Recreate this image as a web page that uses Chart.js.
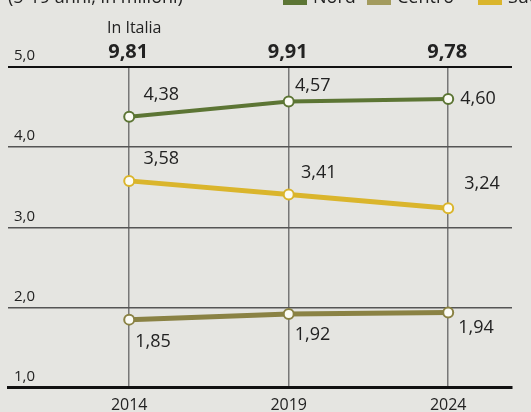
<!DOCTYPE html>
<html>
<head>
<meta charset="utf-8">
<script src="https://cdn.jsdelivr.net/npm/chart.js@4.4.1/dist/chart.umd.min.js"></script>
<style>
  html, body { margin: 0; padding: 0; background: #e5e5e1; overflow: hidden; }
  #wrap { position: relative; width: 531px; height: 423px; }
</style>
</head>
<body>
<div id="wrap"><canvas id="studenti"></canvas></div>
<script>
// data
const anni = [2014, 2019, 2024];
const nord = [4.38, 4.57, 4.60];
const centro = [1.85, 1.92, 1.94];
const sud = [3.58, 3.41, 3.24];
const totaleItalia = [9.81, 9.91, 9.78];
const yTicks = [1, 2, 3, 4, 5];

const colNord = '#5c7534';
const colCentro = '#8a8244';
const colSud = '#dab52c';
const fontFam = '"Open Sans", "Noto Sans", sans-serif';

const fmt = (v, d) => v.toFixed(d).replace('.', ',');

// label offsets for each series (dx, dy, align)
const labelPos = {
  Nord: [[32, -22, 'center'], [24, -16, 'center'], [12, 0, 'left']],
  Sud: [[32, -22, 'center'], [30, -22, 'center'], [16, -24, 'left']],
  Centro: [[6, 22, 'left'], [6, 21, 'left'], [10, 15, 'left']]
};

const overlay = {
  id: 'overlay',
  afterDatasetsDraw(chart) {
    const c = chart.ctx;
    const x = chart.scales.x;
    c.save();
    c.fillStyle = '#222';
    c.textBaseline = 'middle';
    // valori sui punti
    chart.data.datasets.forEach((ds, i) => {
      const meta = chart.getDatasetMeta(i);
      meta.data.forEach((pt, j) => {
        const p = labelPos[ds.label][j];
        c.font = '18px ' + fontFam;
        c.textAlign = p[2];
        c.fillText(fmt(ds.data[j].y, 2), pt.x + p[0], pt.y + p[1]);
      });
    });
    // intestazione in alto (tagliata)
    c.textAlign = 'left';
    c.font = '18px ' + fontFam;
    c.fillText('(5-19 anni, in milioni)', 8, -2);
    const leg = [['Nord', colNord, 283], ['Centro', '#a39b5e', 367], ['Sud', colSud, 478]];
    leg.forEach(l => {
      c.fillStyle = l[1];
      c.fillRect(l[2], -10, 24, 15);
      c.fillStyle = '#222';
      c.fillText(l[0], l[2] + 30, -2);
    });
    // totale Italia
    c.font = '16px ' + fontFam;
    c.fillText('In Italia', 107, 28);
    c.font = 'bold 20px ' + fontFam;
    totaleItalia.forEach((t, j) => {
      c.fillText(fmt(t, 2), x.getPixelForValue(anni[j]) - 21, 52);
    });
    c.restore();
  }
};

const ctx = document.getElementById('studenti').getContext('2d');
const chart = new Chart(ctx, {
  type: 'line',
  data: {
    datasets: [
      { label: 'Nord', data: anni.map((a, i) => ({ x: a, y: nord[i] })), borderColor: colNord, borderWidth: 4 },
      { label: 'Sud', data: anni.map((a, i) => ({ x: a, y: sud[i] })), borderColor: colSud, borderWidth: 5 },
      { label: 'Centro', data: anni.map((a, i) => ({ x: a, y: centro[i] })), borderColor: colCentro, borderWidth: 5 }
    ].map(ds => Object.assign(ds, {
      pointRadius: 5,
      pointBorderWidth: 2,
      pointBackgroundColor: '#fbfbf4',
      pointBorderColor: ds.borderColor,
      tension: 0
    }))
  },
  options: {
    responsive: true,
    maintainAspectRatio: false,
    animation: false,
    layout: { padding: { left: -4, right: 19, top: 67, bottom: 0 } },
    plugins: { legend: { display: false }, tooltip: { enabled: false } },
    scales: {
      x: {
        type: 'linear',
        min: 2010.2,
        max: 2026,
        afterBuildTicks: s => { s.ticks = anni.map(v => ({ value: v })); },
        ticks: {
          color: '#222',
          font: { size: 16, family: fontFam },
          padding: 8,
          callback: v => String(v)
        },
        grid: { color: '#777', lineWidth: 1.5, drawTicks: false },
        border: { color: '#111', width: 3 }
      },
      y: {
        min: 1,
        max: 5,
        afterBuildTicks: s => { s.ticks = yTicks.map(v => ({ value: v })); },
        ticks: {
          mirror: true,
          padding: 6,
          labelOffset: -11,
          color: '#222',
          font: { size: 15, family: fontFam },
          callback: v => fmt(v, 1)
        },
        grid: {
          drawTicks: false,
          color: c => (c.tick.value === 5 || c.tick.value === 1) ? '#111' : '#555',
          lineWidth: c => (c.tick.value === 5) ? 2 : 1.5
        },
        border: { display: false }
      }
    }
  },
  plugins: [overlay]
});
</script>
</body>
</html>
